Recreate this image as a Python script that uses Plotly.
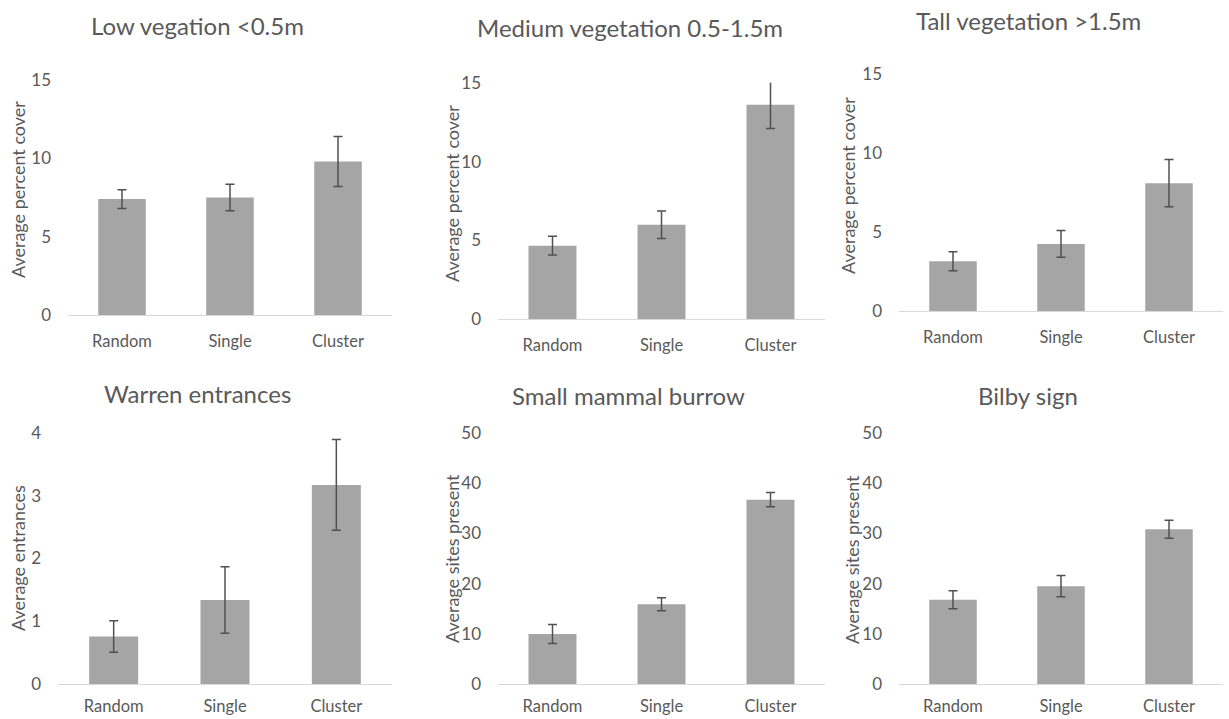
import plotly.graph_objects as go

categories = ["Random", "Single", "Cluster"]

titles = ["Low vegation <0.5m", "Medium vegetation 0.5-1.5m", "Tall vegetation >1.5m",
          "Warren entrances", "Small mammal burrow", "Bilby sign"]
y_titles = ["Average percent cover", "Average percent cover", "Average percent cover",
            "Average entrances", "Average sites present", "Average sites present"]

low_veg = [7.4, 7.5, 9.8]
low_veg_err = [0.6, 0.85, 1.6]
medium_veg = [4.67, 6.0, 13.6]
medium_veg_err = [0.6, 0.87, 1.5]
tall_veg = [3.15, 4.25, 8.1]
tall_veg_err = [0.6, 0.85, 1.5]
warren = [0.76, 1.34, 3.17]
warren_err = [0.25, 0.53, 0.72]
small_mammal = [10.0, 15.9, 36.7]
small_mammal_err = [1.9, 1.3, 1.4]
bilby = [16.8, 19.5, 30.8]
bilby_err = [1.8, 2.1, 1.8]

y_max = [15, 15, 15, 4, 50, 50]
y_dtick = [5, 5, 5, 1, 10, 10]

series = [(low_veg, low_veg_err), (medium_veg, medium_veg_err), (tall_veg, tall_veg_err),
          (warren, warren_err), (small_mammal, small_mammal_err), (bilby, bilby_err)]

W, H = 1229, 719
# panel geometry in pixels: x_left, x_right, y_top(range max), y_zero
panels = [
    (68, 392, 80, 315),
    (498, 825, 82.7, 319.3),
    (899, 1223, 74.3, 311),
    (58, 392, 432.7, 684.3),
    (498, 825, 432.7, 684.3),
    (899, 1223, 432.7, 684.3),
]
x_label_standoff = [11, 11, 11, 7, 7, 7]
title_pos = [(197, 25), (630, 28), (1028, 20), (197, 393), (628, 395), (1028, 395)]
ytitle_pos = [(18, 190), (452, 194), (848, 186), (18, 558), (452, 559), (852, 559)]

FONT = "Lato"
TXT = "#595959"
BAR = "#A5A5A5"

fig = go.Figure()
annotations = []
for i, ((vals, errs), (xl, xr, yt, yz)) in enumerate(zip(series, panels)):
    n = "" if i == 0 else str(i + 1)
    fig.add_trace(go.Bar(
        x=categories, y=vals,
        error_y=dict(type="data", array=errs, visible=True, color="#505050", thickness=1.5, width=4.5),
        marker=dict(color=BAR, line=dict(width=0)),
        xaxis="x" + n, yaxis="y" + n, showlegend=False, cliponaxis=False,
    ))
    fig.layout["xaxis" + n] = dict(
        domain=[xl / W, xr / W], anchor="y" + n,
        showline=True, linecolor="#D9D9D9", linewidth=1,
        showgrid=False, zeroline=False, ticks="", automargin=False,
        tickfont=dict(family=FONT, size=16.5, color=TXT),
        ticklabelstandoff=x_label_standoff[i], fixedrange=True,
    )
    fig.layout["yaxis" + n] = dict(
        domain=[1 - yz / H, 1 - yt / H], anchor="x" + n,
        range=[0, y_max[i]], dtick=y_dtick[i], tick0=0,
        showline=False, showgrid=False, zeroline=False, ticks="", automargin=False,
        tickfont=dict(family=FONT, size=17, color=TXT),
        ticklabelstandoff=16, fixedrange=True,
    )
    tx, ty = title_pos[i]
    annotations.append(dict(
        text=titles[i], x=tx / W, y=1 - ty / H, xref="paper", yref="paper",
        xanchor="center", yanchor="middle", showarrow=False,
        font=dict(family=FONT, size=24, color=TXT),
    ))
    ax, ay = ytitle_pos[i]
    annotations.append(dict(
        text=y_titles[i], x=ax / W, y=1 - ay / H, xref="paper", yref="paper",
        xanchor="center", yanchor="middle", showarrow=False, textangle=-90,
        font=dict(family=FONT, size=18, color=TXT),
    ))

fig.update_layout(
    width=W, height=H,
    margin=dict(l=0, r=0, t=0, b=0, pad=0, autoexpand=False),
    paper_bgcolor="white", plot_bgcolor="white",
    bargap=0.56,
    annotations=annotations,
)

fig.write_html(
    "out.html",
    config={"displayModeBar": False, "staticPlot": True},
    post_script="document.body.style.margin='0';document.body.style.overflow='hidden';",
)
